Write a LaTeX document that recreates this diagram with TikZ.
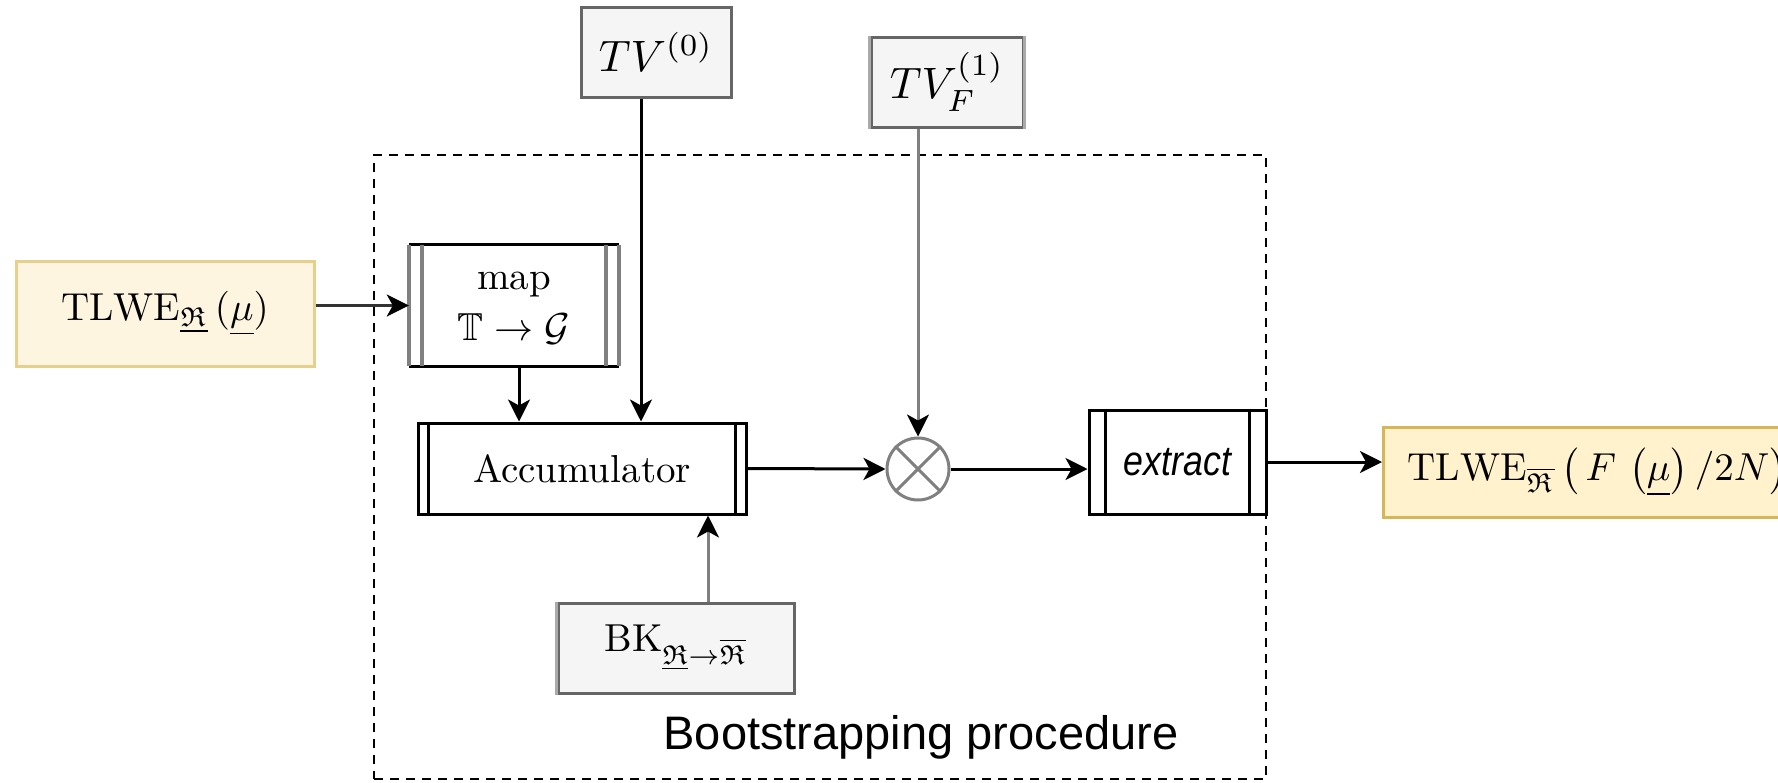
\RequirePackage{fix-cm}
\documentclass[tikz,border=0pt]{standalone}
\usepackage{amsmath,amssymb,graphicx}
\usepackage{fontspec}
\newfontfamily\sansf{Liberation Sans}
\usetikzlibrary{arrows.meta,calc}
\definecolor{tinfill}{HTML}{FDF5E0}
\definecolor{tinedge}{HTML}{E6D08E}
\definecolor{toutfill}{HTML}{FFF2CC}
\definecolor{toutedge}{HTML}{D6B656}
\definecolor{boxgray}{HTML}{F5F5F5}
\definecolor{boxedge}{HTML}{666666}
\definecolor{lightedge}{HTML}{AAAAAA}
\definecolor{midgray}{HTML}{808080}
\definecolor{darkline}{HTML}{333333}
\newcommand{\bigtxt}[2][3.9]{\scalebox{#1}{\fontsize{10}{12}\selectfont #2}}
\tikzset{
  arr/.style={line width=3pt,-{Stealth[length=22pt,width=22pt,inset=6pt,color=black]}},
  graybox/.style={fill=boxgray,draw=boxedge,line width=3pt,minimum height=90pt,inner sep=0pt},
  procbox/.style={draw=black,line width=3pt,inner sep=0pt},
  frame/.style={draw=black,line width=2.5pt,dash pattern=on 9pt off 7pt,inner sep=0pt},
  inner/.style={line width=3pt}
}
\begin{document}
\begin{tikzpicture}[x=1pt,y=-1pt]
\clip (0,0) rectangle (1778,782);
\useasboundingbox (0,0) rectangle (1778,782);

% dashed frame
\node[frame,minimum width=892pt,minimum height=624pt] (frame) at (820,467) {};
\node[font=\sansf\fontsize{47}{52}\selectfont] (lbl) at (921,737) {Bootstrapping procedure};

% input / output
\node[fill=tinfill,draw=tinedge,line width=3pt,minimum width=298pt,minimum height=105pt,inner sep=0pt] (tin) at (165,313.5)
  {\bigtxt{$\mathrm{TLWE}_{\underline{\mathfrak{R}}}\,(\underline{\mu})$}};
\node[fill=toutfill,draw=toutedge,line width=3pt,anchor=west,minimum height=90pt,inner xsep=24pt,inner ysep=0pt] (tout) at (1382,472)
  {\bigtxt{$\mathrm{TLWE}_{\overline{\mathfrak{R}}}\left(\,F\,\left(\underline{\mu}\right)/2N\right)$}};

% map
\node[fill=white,minimum width=210pt,minimum height=121pt,inner sep=0pt] (map) at (514,305.5)
  {\bigtxt{\begin{tabular}{@{}c@{}}map\\[1pt]$\mathbb{T}\to\mathcal{G}$\end{tabular}}};
\draw[inner] (map.north west) -- (map.north east);
\draw[inner] (map.south west) -- (map.south east);
\draw[inner,midgray,line width=4pt] (map.north west) -- (map.south west);
\draw[inner,midgray,line width=4pt] ([xshift=13pt]map.north west) -- ([xshift=13pt]map.south west);
\draw[inner,midgray,line width=4pt] (map.north east) -- (map.south east);
\draw[inner,midgray,line width=4pt] ([xshift=-13pt]map.north east) -- ([xshift=-13pt]map.south east);

% accumulator
\node[procbox,fill=white,minimum width=328pt,minimum height=91pt] (acc) at (582,468.5) {\bigtxt{Accumulator}};
\draw[inner] ([xshift=12pt]acc.north west) -- ([xshift=12pt]acc.south west);
\draw[inner] ([xshift=-12pt]acc.north east) -- ([xshift=-12pt]acc.south east);

% otimes
\node[circle,draw=midgray,fill=white,line width=3pt,minimum size=62pt,inner sep=0pt] (circ) at (918,469) {};
\draw[midgray,line width=3pt] (circ.north west) -- (circ.south east);
\draw[midgray,line width=3pt] (circ.north east) -- (circ.south west);

% extract
\node[procbox,fill=white,minimum width=177pt,minimum height=104pt] (ext) at (1177.5,462)
  {\scalebox{0.85}[1]{\sansf\itshape\fontsize{42}{48}\selectfont extract}};
\draw[inner] ([xshift=18pt]ext.north west) -- ([xshift=18pt]ext.south west);
\draw[inner] ([xshift=-18pt]ext.north east) -- ([xshift=-18pt]ext.south east);

% gray boxes
\node[graybox,minimum width=150pt] (tv0) at (656,52) {\bigtxt[4.4]{$TV^{(0)}$}};
\node[graybox,minimum width=152pt] (tvf) at (947,82) {\bigtxt[4.4]{$TV_F^{(1)}$}};
\draw[lightedge,line width=3pt] (tvf.north west) -- (tvf.south west);
\draw[lightedge,line width=3pt] (tvf.north east) -- (tvf.south east);
\node[graybox,minimum width=236pt] (bk) at (676,648) {\bigtxt{$\mathrm{BK}_{\underline{\mathfrak{R}}\to\overline{\mathfrak{R}}}$}};
\draw[lightedge,line width=3pt] (bk.north west) -- (bk.south west);

% connectors
\draw[arr,darkline] (tin.east |- map.west) -- (map.west);
\draw[arr] ([xshift=5pt]map.south) -- ([xshift=5pt]map.south |- acc.north);
\draw[arr] ([xshift=-15pt]tv0.south) -- ([xshift=-15pt]tv0.south |- acc.north);
\draw[arr,midgray] (circ.north |- tvf.south) -- (circ.north);
\draw[arr,midgray] ([xshift=32pt]bk.north) -- ([xshift=32pt]bk.north |- acc.south);
\draw[arr] (acc.east) -- (circ.west);
\draw[arr] (circ.east) -- (circ.east -| ext.west);
\draw[arr] (ext.east) -- (ext.east -| tout.west);
\end{tikzpicture}
\end{document}
